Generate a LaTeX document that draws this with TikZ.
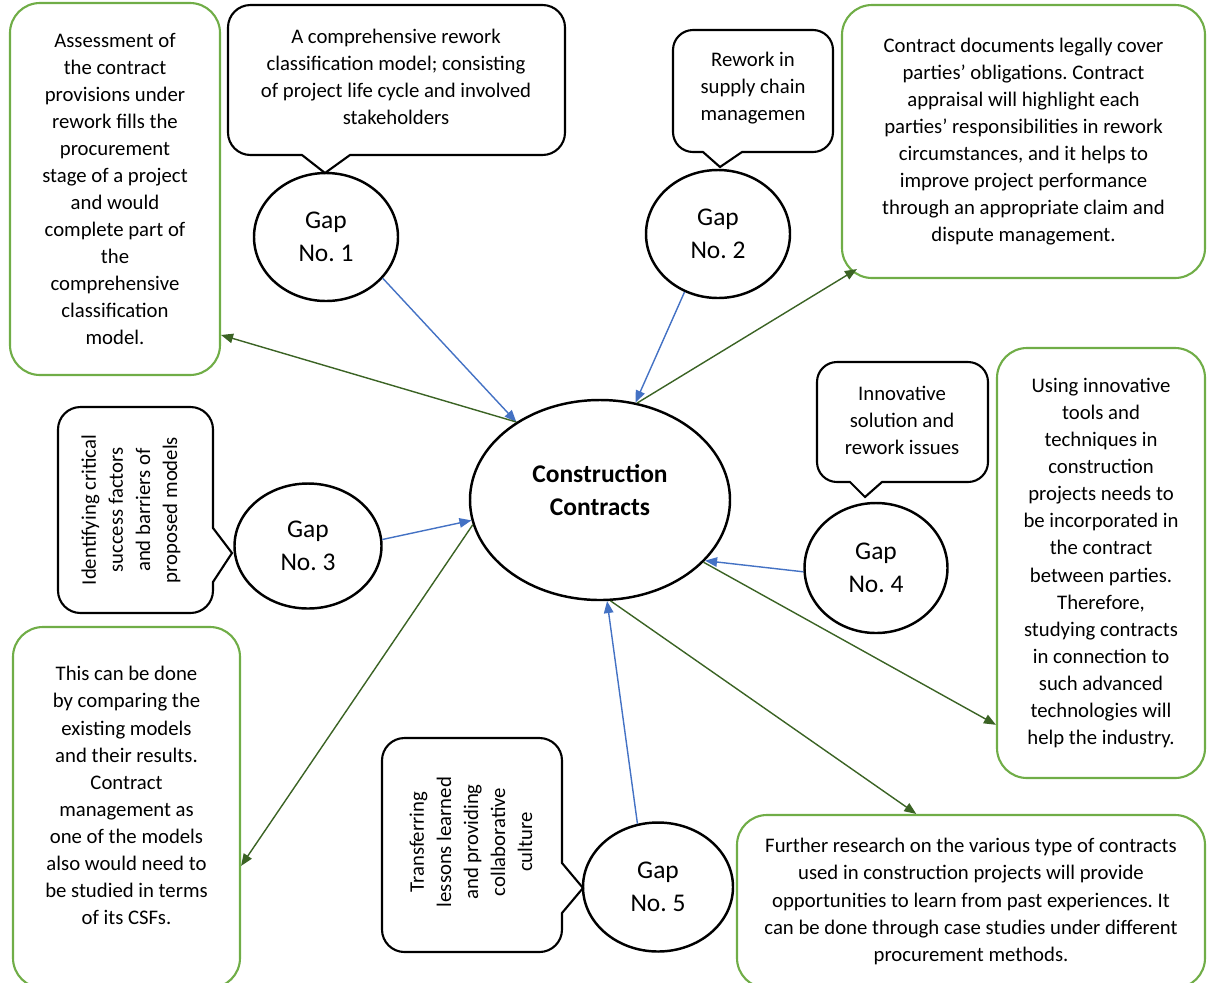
\documentclass[tikz,border=0pt]{standalone}
\usepackage{fontspec}
\setmainfont{Carlito}
\frenchspacing
\usetikzlibrary{arrows.meta,shapes.geometric}

\definecolor{boxgreen}{HTML}{70AD47}
\definecolor{linkgreen}{HTML}{3B6324}
\definecolor{linkblue}{HTML}{4472C4}

\begin{document}
\begin{tikzpicture}[
  x=0.2mm,y=-0.2mm,
  body/.style={font=\fontsize{11.8}{15.4}\selectfont},
  gapnode/.style={ellipse,draw=black,line width=1.4pt,inner sep=0pt,align=center,
    minimum width=2.88cm,minimum height=2.56cm,font=\fontsize{14.5}{18.8}\selectfont},
  findbox/.style={body,rectangle,draw=boxgreen,line width=1.2pt,rounded corners=6mm,
    inner sep=0pt,align=center},
  bubble/.style={draw=black,line width=1.2pt,fill=white},
  bubbletext/.style={body,align=center,inner sep=0pt},
  bluelink/.style={draw=linkblue,line width=0.8pt,-{Triangle[length=2.4mm,width=1.9mm]}},
  greenlink/.style={draw=linkgreen,line width=0.8pt,-{Triangle[length=2.4mm,width=1.9mm]}}
]
\useasboundingbox (0,0) rectangle (1208,982);
\clip (0,0) rectangle (1208,982);

% Central topic
\node[ellipse,draw=black,line width=1.4pt,minimum width=5.2cm,minimum height=4cm,
  align=center,text depth=4mm,font=\bfseries\fontsize{14.5}{19}\selectfont] (contracts) at (600,500)
  {Construction\\Contracts};

% Gap ellipses
\node[gapnode] (gap1) at (326,237) {Gap\\No. 1};
\node[gapnode] (gap2) at (718,234) {Gap\\No. 2};
\node[gapnode,minimum width=2.94cm,minimum height=2.5cm] (gap3) at (308,546) {Gap\\No. 3};
\node[gapnode,minimum width=2.86cm,minimum height=2.6cm] (gap4) at (876,568) {Gap\\No. 4};
\node[gapnode,minimum width=3cm,minimum height=2.58cm] (gap5) at (658,887) {Gap\\No. 5};

% Speech bubbles naming each gap
\draw[bubble] (302,155) [rounded corners=4.5mm] -- (228,155) -- (228,5) -- (565,5)
  -- (565,155) [sharp corners] -- (350,155) -- (325,173) -- cycle;
\node[bubbletext] (say1) at (396,77) {A comprehensive rework\\classification model; consisting\\of project life cycle and involved\\stakeholders};

\draw[bubble] (703,152) [rounded corners=4mm] -- (673,152) -- (673,30) -- (833,30)
  -- (833,152) [sharp corners] -- (742,152) -- (720,167) -- cycle;
\node[bubbletext] (say2) at (753,88) {Rework in\\supply chain\\managemen};

\draw[bubble] (213,528) [rounded corners=4.5mm] -- (213,407) -- (58,407) -- (58,613)
  -- (213,613) [sharp corners] -- (213,582) -- (232,553) -- cycle;
\node[bubbletext,rotate=90] (say3) at (131,510) {Identifying critical\\success factors\\and barriers of\\proposed models};

\draw[bubble] (850,482) [rounded corners=4mm] -- (817,482) -- (817,362) -- (988,362)
  -- (988,482) [sharp corners] -- (882,482) -- (865,497) -- cycle;
\node[bubbletext] (say4) at (902,420) {Innovative\\solution and\\rework issues};

\draw[bubble] (562,863) [rounded corners=4.5mm] -- (562,738) -- (382,738) -- (382,952)
  -- (562,952) [sharp corners] -- (562,913) -- (583,888) -- cycle;
\node[bubbletext,rotate=90] (say5) at (471,842) {Transferring\\lessons learned\\and providing\\collaborative\\culture};

% Green boxes: what studying contracts adds
\node[findbox,minimum width=4.2cm,minimum height=7.44cm] (find1) at (115,189)
  {Assessment of\\the contract\\provisions under\\rework fills the\\procurement\\stage of a project\\and would\\complete part of\\the\\comprehensive\\classification\\model.};
\node[findbox,minimum width=7.26cm,minimum height=5.46cm] (find2) at (1023.5,141.5)
  {Contract documents legally cover\\parties’ obligations. Contract\\appraisal will highlight each\\parties’ responsibilities in rework\\circumstances, and it helps to\\improve project performance\\through an appropriate claim and\\dispute management.};
\node[findbox,minimum width=4.54cm,minimum height=7.22cm,text depth=4.8mm] (find3) at (126.5,807.5)
  {This can be done\\by comparing the\\existing models\\and their results.\\Contract\\management as\\one of the models\\also would need to\\be studied in terms\\of its CSFs.};
\node[findbox,minimum width=4.16cm,minimum height=8.6cm] (find4) at (1101,563)
  {Using innovative\\tools and\\techniques in\\construction\\projects needs to\\be incorporated in\\the contract\\between parties.\\Therefore,\\studying contracts\\in connection to\\such advanced\\technologies will\\help the industry.};
\node[findbox,minimum width=9.36cm,minimum height=3.46cm] (find5) at (971,901.5)
  {Further research on the various type of contracts\\used in construction projects will provide\\opportunities to learn from past experiences. It\\can be done through case studies under different\\procurement methods.};

% Gaps point to the contracts
\draw[bluelink] (gap1.-36) -- (contracts.137);
\draw[bluelink] (gap2.240) -- (contracts.70);
\draw[bluelink] (gap3.5) -- (contracts.189);
\draw[bluelink] (gap4.183) -- (contracts.-30);
\draw[bluelink] (gap5.108) -- (contracts.-86);

% Contracts lead to the findings
\draw[greenlink] (contracts.137) -- (find1.-54);
\draw[greenlink] (contracts.69) -- ([xshift=3.2mm,yshift=2mm]find2.south west);
\draw[greenlink] (contracts.191) -- (find3.-27);
\draw[greenlink] (contracts.-31) -- (find4.237.6);
\draw[greenlink] (contracts.-84) -- (find5.122);
\end{tikzpicture}
\end{document}
